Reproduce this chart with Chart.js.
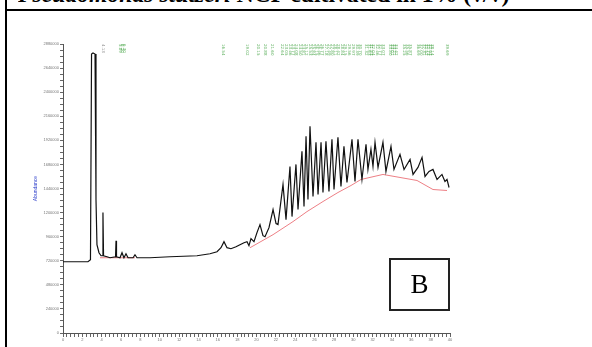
<!DOCTYPE html>
<html><head><meta charset="utf-8">
<script src="https://cdn.jsdelivr.net/npm/chart.js@4/dist/chart.umd.min.js"></script>
<style>
html,body{margin:0;padding:0;background:#fff;width:592px;height:347px;overflow:hidden;position:relative;}
#vline{position:absolute;left:5px;top:0;width:2px;height:347px;background:#000;}
#hline{position:absolute;left:5px;top:9px;width:587px;height:2px;background:#000;}
#title{position:absolute;left:18px;top:0;height:9px;width:574px;overflow:hidden;}
#title span.t{position:absolute;left:0;top:-18px;white-space:nowrap;font-family:"Liberation Serif","Times New Roman",serif;font-size:23.7px;line-height:24px;font-weight:bold;color:#000;}
#box{position:absolute;left:389px;top:258px;width:57px;height:49px;border:2px solid #222;font-family:"Liberation Serif","Times New Roman",serif;font-size:27px;line-height:49px;text-align:center;color:#000;}
canvas{position:absolute;left:0;top:0;}
</style></head>
<body>
<div id="title"><span class="t"><i>Pseudomonas stutzeri</i> NCF cultivated in 1% (v/v)</span></div>
<div id="vline"></div><div id="hline"></div>
<canvas id="c" width="592" height="347"></canvas>
<div id="box">B</div>
<script>
// Retention time (min) and abundance of the total ion chromatogram
const rtMin = [0,2.58,2.84,2.95,3.10,3.31,3.41,3.51,3.72,3.93,4.08,4.13,4.19,4.55,4.86,5.43,5.48,5.53,5.89,6.10,6.30,6.51,6.72,7.24,7.44,7.65,8.99,11.06,13.85,15.19,15.92,16.33,16.64,16.95,17.36,17.88,18.29,18.71,19.02,19.22,19.43,19.74,20.05,20.36,20.67,20.88,21.29,21.71,22.02,22.22,22.74,23.05,23.46,23.67,24.08,24.29,24.70,24.91,25.12,25.32,25.53,25.84,26.15,26.36,26.67,26.87,27.18,27.49,27.80,28.01,28.42,28.73,29.04,29.35,29.87,30.18,30.49,30.90,31.32,31.52,31.83,32.04,32.25,32.56,33.07,33.38,33.90,34.21,34.83,35.25,35.87,36.18,36.69,37.11,37.42,37.83,38.24,38.66,39.17,39.48,39.69,39.90];
const abundance = [710000,710000,730000,2780000,2790000,2780000,1330000,880000,800000,770000,770000,1200000,770000,760000,750000,760000,920000,760000,750000,800000,750000,790000,750000,750000,780000,750000,750000,760000,770000,790000,810000,850000,910000,850000,840000,860000,880000,900000,910000,870000,940000,910000,1000000,1080000,970000,960000,1050000,1230000,1090000,1080000,1480000,1130000,1660000,1160000,1680000,1230000,1810000,1260000,1960000,1330000,2060000,1360000,1900000,1380000,1900000,1400000,1910000,1410000,1930000,1430000,1950000,1460000,1860000,1500000,1930000,1510000,1930000,1530000,1880000,1630000,1830000,1660000,1900000,1650000,1900000,1610000,1860000,1630000,1780000,1630000,1730000,1580000,1650000,1750000,1560000,1610000,1630000,1530000,1580000,1510000,1530000,1450000];
// Integration baseline (red)
const baseRt = [3.82,7.44,7.5,19.33,21.71,23.77,25.22,26.87,28.42,29.77,30.80,33.07,34.83,36.59,38.24,39.69];
const baseAbund = [750000,750000,null,850000,980000,1110000,1210000,1310000,1400000,1470000,1530000,1580000,1550000,1520000,1430000,1420000];
// Peak retention-time annotations (green)
const peakLabelRt = [5.89,6.10,6.30,16.54,19.02,20.15,20.88,21.60,22.64,23.05,23.46,23.77,24.08,24.50,24.81,25.12,25.53,25.84,26.15,26.46,26.77,27.18,27.49,27.80,28.11,28.42,28.84,29.15,29.56,29.97,30.39,30.70,31.32,31.63,31.83,32.04,32.46,32.77,33.07,33.80,34.01,34.21,34.42,35.25,35.56,35.87,36.69,37.00,37.31,37.52,37.73,37.93,38.14,39.69];
const solventLabelRt = [4.13];
const yAxisTitle = 'Abundance';

const sig = rtMin.map((t,i)=>({x:t,y:abundance[i]}));
const base = baseRt.map((t,i)=>({x:t,y:baseAbund[i]}));

const labelPlugin = {
  id:'peakLabels',
  afterDatasetsDraw(chart){
    const ctx = chart.ctx, xs = chart.scales.x;
    ctx.save();
    ctx.font = '4px "DejaVu Sans"';
    ctx.textBaseline = 'middle';
    const draw = (arr,color)=>{
      ctx.fillStyle = color;
      arr.forEach(t=>{
        const px = xs.getPixelForValue(t);
        ctx.save();
        ctx.translate(px,44);
        ctx.rotate(Math.PI/2);
        ctx.fillText(t.toFixed(2),0,0);
        ctx.restore();
      });
    };
    draw(peakLabelRt,'rgba(40,150,40,0.75)');
    draw(solventLabelRt,'rgba(90,90,90,0.7)');
    ctx.restore();
  }
};

new Chart(document.getElementById('c'),{
  type:'line',
  data:{datasets:[
    {data:sig,borderColor:'#111',borderWidth:1.2,pointRadius:0,tension:0,order:1},
    {data:base,borderColor:'rgba(225,40,50,0.75)',borderWidth:0.8,pointRadius:0,tension:0,spanGaps:false,order:2}
  ]},
  options:{
    responsive:false,animation:false,
    layout:{padding:{top:44,right:142,left:33,bottom:0}},
    plugins:{legend:{display:false},tooltip:{enabled:false}},
    scales:{
      x:{type:'linear',min:0,max:40,
        afterFit(s){s.height=14;},
        border:{display:true,color:'#555',width:1},
        grid:{drawOnChartArea:false,drawTicks:true,tickLength:4,color:'#666'},
        ticks:{stepSize:0.4,autoSkip:false,maxRotation:0,padding:0,color:'#777',font:{size:4},
          callback:(v)=>{const r=Math.round(v*10)/10;return (Math.abs(r%2)<1e-6)?r.toFixed(0):'';}}
      },
      y:{type:'linear',min:0,max:2880000,
        afterFit(s){s.width=30;},
        border:{display:true,color:'#555',width:1},
        title:{display:true,text:yAxisTitle,color:'#3344cc',font:{size:5},padding:0},
        grid:{drawOnChartArea:false,drawTicks:true,tickLength:3,color:'#666'},
        ticks:{stepSize:60000,autoSkip:false,padding:1,color:'#777',font:{size:4},
          callback:(v)=>{const k=Math.round(v/60000);return (k%4===0)?String(Math.round(v)):'';}}
      }
    }
  },
  plugins:[labelPlugin]
});
</script>
</body></html>
